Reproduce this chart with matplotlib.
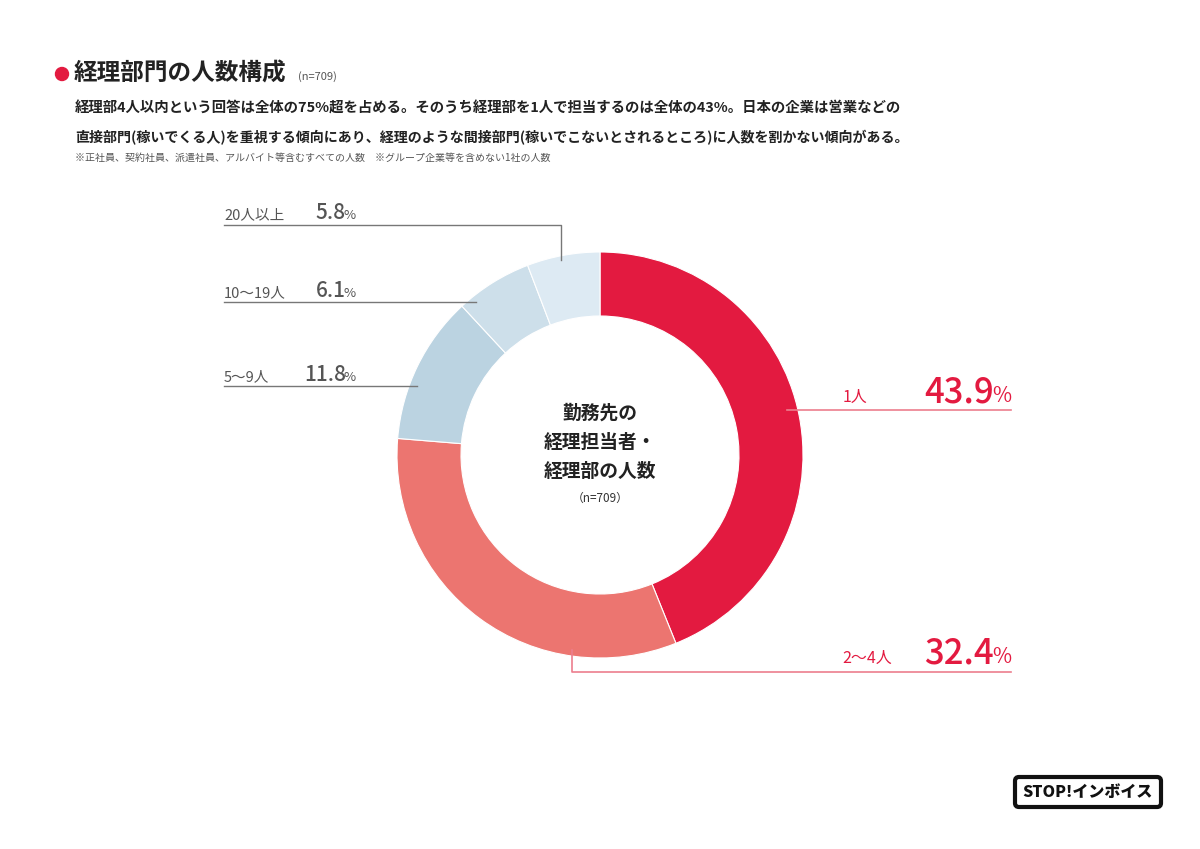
import matplotlib
matplotlib.use("Agg")
import matplotlib.pyplot as plt
from matplotlib.patches import Circle, FancyBboxPatch

plt.rcParams['font.family'] = ['Noto Sans CJK JP', 'DejaVu Sans']

# data
labels = ['1人', '2～4人', '5～9人', '10～19人', '20人以上']
values = [43.9, 32.4, 11.8, 6.1, 5.8]
colors = ['#E31A40', '#EC7570', '#BBD3E1', '#CDDFEA', '#DDEAF3']

title = '経理部門の人数構成'
n_note = '(n=709)'
body = ['経理部4人以内という回答は全体の75%超を占める。そのうち経理部を1人で担当するのは全体の43%。日本の企業は営業などの',
        '直接部門(稼いでくる人)を重視する傾向にあり、経理のような間接部門(稼いでこないとされるところ)に人数を割かない傾向がある。']
footnote = '※正社員、契約社員、派遣社員、アルバイト等含むすべての人数　※グループ企業等を含めない1社の人数'
center_lines = ['勤務先の', '経理担当者・', '経理部の人数']

W, H = 1200, 849
def Y(y):
    # pixel row (from top) -> data y
    return H - y

fig = plt.figure(figsize=(12, 8.49), dpi=100)
ax = fig.add_axes([0, 0, 1, 1])

cx, cy, R = 600, 455, 203
ax.pie(values, colors=colors, startangle=90, counterclock=False,
       radius=R, center=(cx, Y(cy)),
       wedgeprops=dict(width=64, edgecolor='white', linewidth=0.8))
ax.set_xlim(0, W)
ax.set_ylim(0, H)
ax.set_aspect('equal')
ax.axis('off')

# title area
ax.add_patch(Circle((62, Y(74)), 6.5, color='#E31A40'))
ax.text(74, Y(74), title, fontsize=17, fontweight='bold', color='#222222', va='center', ha='left')
ax.text(298, Y(77), n_note, fontsize=8, color='#555555', va='center', ha='left')
ax.text(75, Y(109), body[0], fontsize=10.4, fontweight='bold', color='#222222', va='center')
ax.text(75, Y(138), body[1], fontsize=10.1, fontweight='bold', color='#222222', va='center')
ax.text(75, Y(158), footnote, fontsize=7.2, color='#555555', va='center')

# center text
for i, s in enumerate(center_lines):
    ax.text(cx, Y(413 + i * 29), s, fontsize=13.5, fontweight='bold', color='#222222',
            ha='center', va='center')
ax.text(cx, Y(498), '（n=709）', fontsize=8.5, color='#333333', ha='center', va='center')

renderer = fig.canvas.get_renderer()

def pct_label(xr, yb, val, big, small, color):
    t = ax.text(xr, Y(yb), '%', fontsize=small, color=color, ha='right', va='baseline')
    w = t.get_window_extent(renderer).width
    ax.text(xr - w + 2, Y(yb), f'{val:.1f}', fontsize=big, color=color,
            ha='right', va='baseline', fontweight='medium')

red = '#E31A40'
pink = '#EC7E8E'
gray = '#555555'
lgray = '#777777'

# right side labels
# 1人
ax.plot([787, 1011], [Y(410), Y(410)], color=pink, lw=1.2)
ax.text(843, Y(402), labels[0], fontsize=11.5, color=red, ha='left', va='baseline')
pct_label(1011, 402, values[0], 25, 15, red)
# 2~4人
ax.plot([572, 572, 1011], [Y(650), Y(672), Y(672)], color=pink, lw=1.2)
ax.text(842, Y(663), labels[1], fontsize=11.5, color=red, ha='left', va='baseline')
pct_label(1011, 663, values[1], 25, 15, red)

# left side labels
ax.plot([224, 561, 561], [Y(225), Y(225), Y(260)], color=lgray, lw=1.0)
ax.text(224, Y(219), labels[4], fontsize=10.5, color=gray, ha='left', va='baseline')
pct_label(356, 219, values[4], 15, 9.5, gray)

ax.plot([224, 476], [Y(302), Y(302)], color=lgray, lw=1.0)
ax.text(224, Y(297), labels[3], fontsize=10.5, color=gray, ha='left', va='baseline')
pct_label(356, 297, values[3], 15, 9.5, gray)

ax.plot([224, 417], [Y(386), Y(386)], color=lgray, lw=1.0)
ax.text(224, Y(381), labels[2], fontsize=10.5, color=gray, ha='left', va='baseline')
pct_label(356, 381, values[2], 15, 9.5, gray)

# logo
ax.add_patch(FancyBboxPatch((1015, Y(807)), 146, 30,
                            boxstyle='round,pad=0,rounding_size=4',
                            fc='white', ec='#111111', lw=3))
ax.text(1088, Y(792), 'STOP!インボイス', fontsize=11.5, fontweight='heavy',
        color='#111111', ha='center', va='center')

fig.savefig('out.png', dpi=100)
